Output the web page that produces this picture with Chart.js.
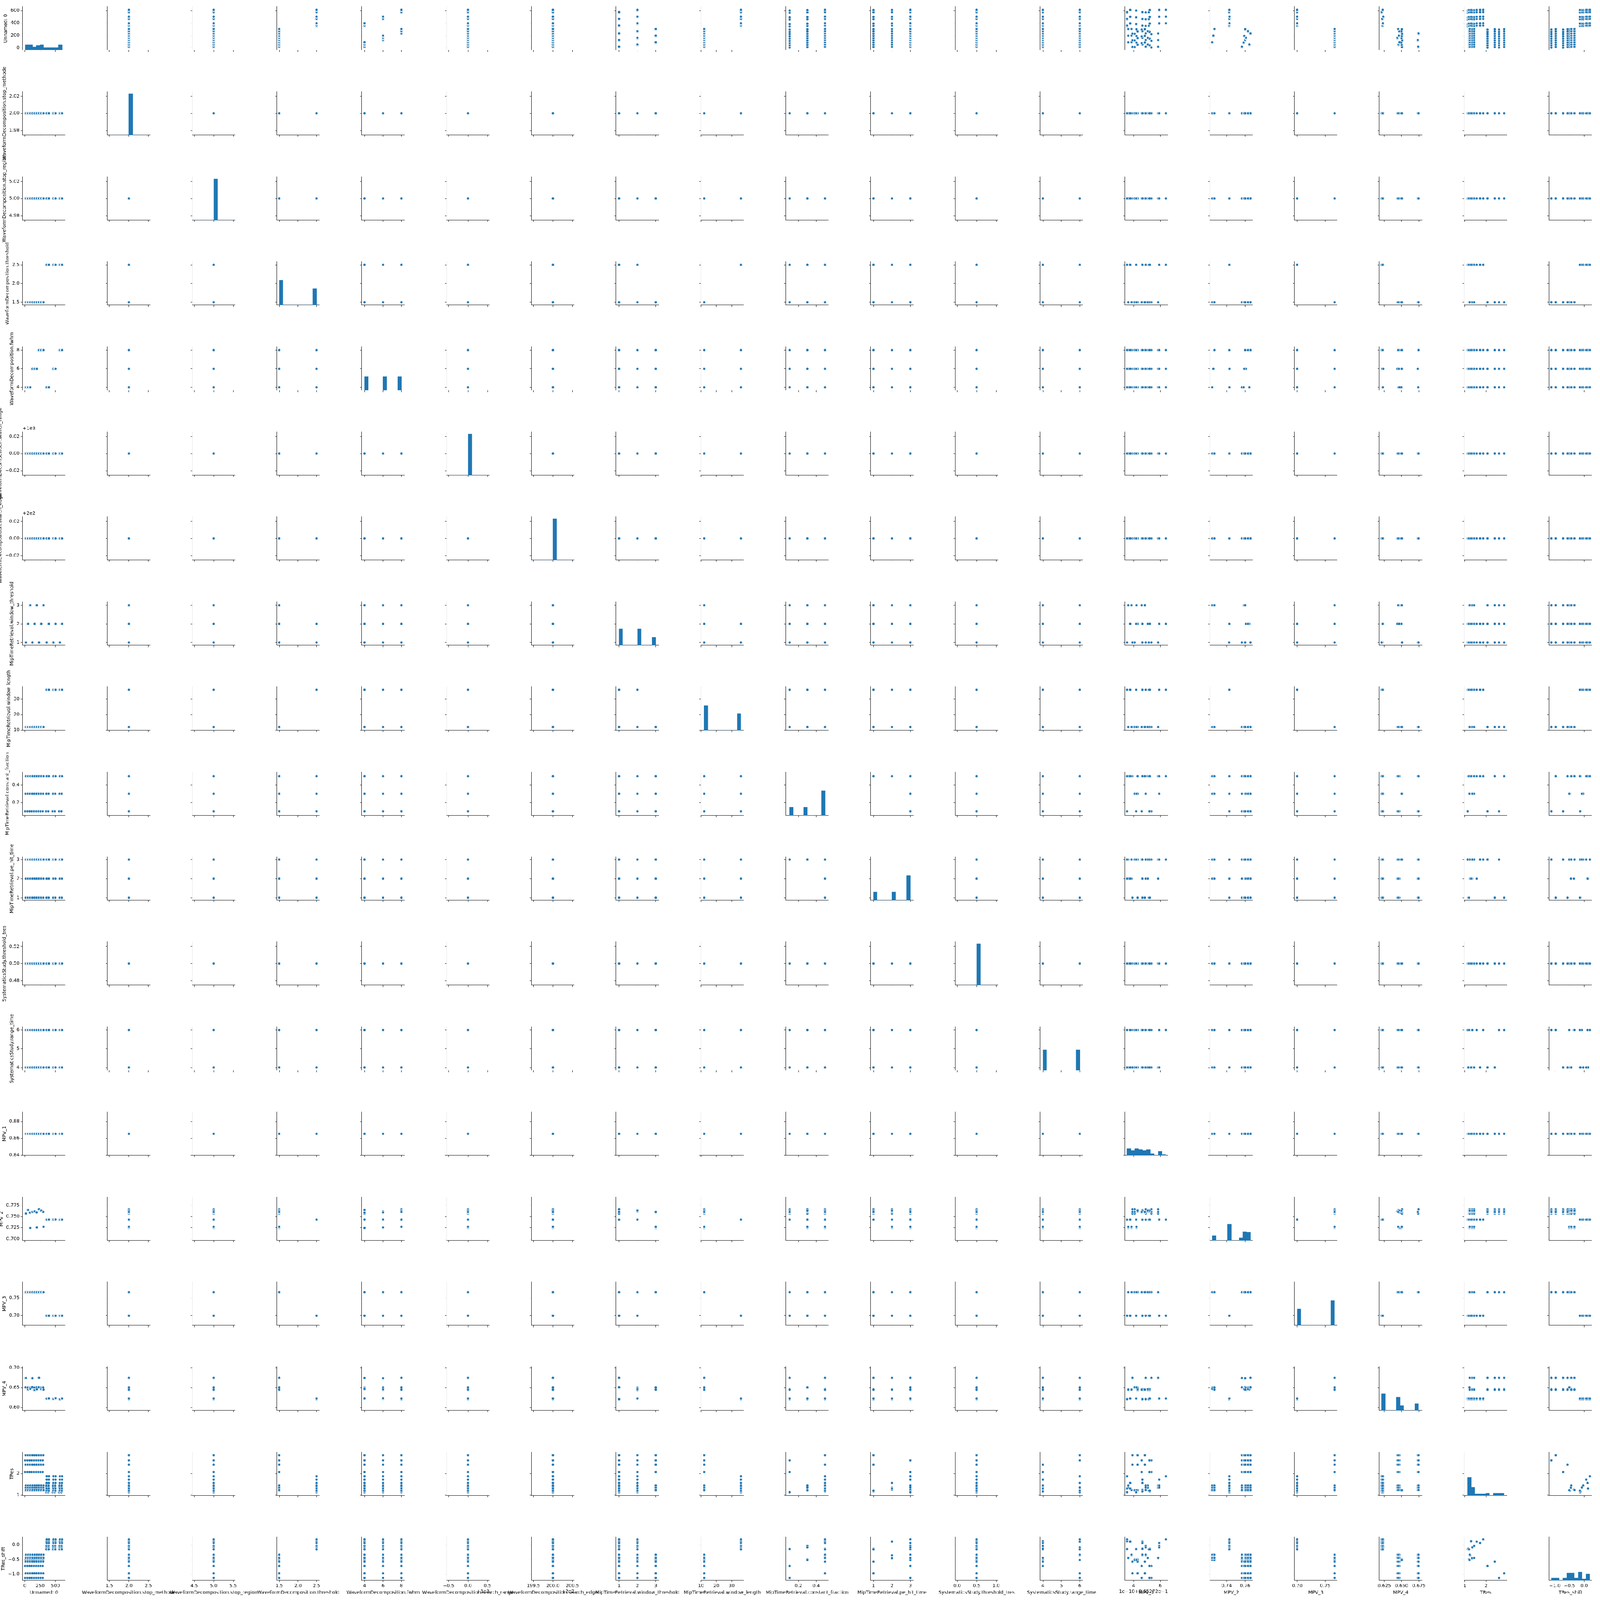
<!DOCTYPE html>
<html>
<head>
<meta charset="utf-8">
<script src="https://cdn.jsdelivr.net/npm/chart.js@4.4.1/dist/chart.umd.min.js"></script>
<style>
html, body { margin: 0; padding: 0; background: #fff; overflow: hidden; }
#grid { position: absolute; left: 0; top: 0; width: 4750px; height: 4750px; overflow: hidden; transform-origin: 0 0; }
#grid canvas { position: absolute; }
</style>
</head>
<body>
<div id="grid"></div>
<script>
// ---- columns of the pair plot ----
const VAR_NAMES = [
  "Unnamed: 0",
  "WaveformDecomposition.stop_methode",
  "WaveformDecomposition.stop_region",
  "WaveformDecomposition.threshold",
  "WaveformDecomposition.fwhm",
  "WaveformDecomposition.search_range",
  "WaveformDecomposition.search_edge",
  "MipTimeRetrieval.window_threshold",
  "MipTimeRetrieval.window_length",
  "MipTimeRetrieval.constant_fraction",
  "MipTimeRetrieval.pe_hit_time",
  "SystematicsStudy.threshold_tres",
  "SystematicsStudy.range_time",
  "MPV_1", "MPV_2", "MPV_3", "MPV_4", "TRes", "TRes_shift"
];

// constant settings
const STOP_METHODE = 2;
const STOP_REGION = 5;
const SEARCH_RANGE = 1000;
const SEARCH_EDGE = 200;
const THRESHOLD_TRES = 0.5;
const MPV1_BASE = 0.865272;   // MPV_1 = base + offset * 1e-10

// parameter groups (threshold / fwhm / window)
const grpIndexBase = [0, 36, 72, 108, 144, 180, 216, 252, 288, 342, 378, 450, 486, 558, 594];
const grpThreshold = [1.5, 1.5, 1.5, 1.5, 1.5, 1.5, 1.5, 1.5, 1.5, 2.5, 2.5, 2.5, 2.5, 2.5, 2.5];
const grpFwhm      = [4, 4, 4, 6, 6, 6, 8, 8, 8, 4, 4, 6, 6, 8, 8];
const grpWinThr    = [1, 2, 3, 1, 2, 3, 1, 2, 3, 1, 2, 1, 2, 1, 2];
const grpWinLen    = [12, 12, 12, 12, 12, 12, 12, 12, 12, 36, 36, 36, 36, 36, 36];
const grpMPV2      = [0.7565, 0.7645, 0.7585, 0.7600, 0.7610, 0.7590, 0.7658, 0.7632, 0.7600, 0.7429, 0.7431, 0.7430, 0.7432, 0.7428, 0.7430];
const grpMPV2Alt   = [0.7565, 0.7645, 0.7245, 0.7600, 0.7610, 0.7258, 0.7658, 0.7632, 0.7270, 0.7429, 0.7431, 0.7430, 0.7432, 0.7428, 0.7430];
const grpMPV3      = [0.7667, 0.7667, 0.7667, 0.7667, 0.7667, 0.7667, 0.7667, 0.7667, 0.7667, 0.7000, 0.7000, 0.7000, 0.7000, 0.7000, 0.7000];
const grpMPV4      = [0.6740, 0.6455, 0.6470, 0.6735, 0.6440, 0.6460, 0.6745, 0.6465, 0.6450, 0.6225, 0.6230, 0.6220, 0.6235, 0.6210, 0.6228];
const grpMPV4Cf03  = [0.6505, 0.6500, 0.6495, 0.6510, 0.6498, 0.6502, 0.6507, 0.6496, 0.6503, 0.6225, 0.6230, 0.6220, 0.6235, 0.6210, 0.6228];

// timing settings inside each group
const cmbOffset  = [4, 5, 10, 11, 12, 13, 14, 15, 16, 17];
const cmbCF      = [0.1, 0.1, 0.3, 0.3, 0.5, 0.5, 0.5, 0.5, 0.5, 0.5];
const cmbPE      = [3, 3, 3, 3, 1, 1, 2, 2, 3, 3];
const cmbRT      = [4, 6, 4, 6, 4, 6, 4, 6, 4, 6];
const cmbMpv2Alt = [0, 0, 1, 1, 0, 0, 1, 1, 1, 1];
const tresA  = [2.07, 2.61, 1.20, 1.22, 2.41, 2.85, 1.34, 1.25, 1.44, 1.23];
const shiftA = [-0.72, -1.12, -0.49, -0.51, -0.57, -0.97, -0.45, -0.35, -0.44, -0.33];
const tresB  = [1.15, 1.13, 1.44, 1.35, 1.17, 1.20, 1.30, 1.56, 1.72, 1.87];
const shiftB = [-0.15, -0.14, -0.03, -0.08, -0.13, -0.15, 0.13, 0.11, 0.07, 0.19];

// MPV_1 offsets (x 1e-10) per threshold / window_threshold
const mpv1OffA1 = [5.33, 5.33, 4.07, 4.07, 3.90, 3.90, 5.84, 4.91, 5.84, 4.91];
const mpv1OffA2 = [5.19, 5.19, 4.30, 4.30, 4.30, 4.30, 5.07, 4.65, 5.07, 4.65];
const mpv1OffA3 = [4.60, 4.60, 4.21, 4.21, 4.84, 4.84, 3.60, 3.84, 3.60, 3.84];
const mpv1OffB1 = [3.50, 3.50, 4.91, 4.91, 4.65, 5.14, 3.50, 4.65, 4.65, 3.50];
const mpv1OffB2 = [4.19, 4.19, 5.91, 5.91, 5.21, 5.21, 3.74, 3.74, 5.91, 6.42];

// axis limits and ticks
const X_RANGE = [[-38, 664], [1.45, 2.55], [4.45, 5.55], [1.436, 2.583], [3.70, 8.33], [999.45, 1000.55],
  [199.45, 200.55], [0.838, 3.17], [9.95, 37.9], [0.058, 0.54], [0.852, 3.17], [-0.05, 1.05], [3.85, 6.17],
  [3.354, 6.566], [0.7221, 0.7682], [0.6952, 0.7714], [0.6178, 0.6798], [0.975, 2.99], [-1.195, 0.263]];
const Y_RANGE = [[-38, 661], [1.9745, 2.0255], [4.9745, 5.0255], [1.422, 2.584], [3.67, 8.34], [999.9745, 1000.0255],
  [199.9745, 200.0255], [0.843, 3.18], [9.95, 37.9], [0.052, 0.548], [0.86, 3.14], [0.4745, 0.5255], [3.842, 6.158],
  [0.8397, 0.8913], [0.6964, 0.7929], [0.672, 0.796], [0.593, 0.702], [0.975, 2.99], [-1.21, 0.272]];
const X_TICKS = [[0, 250, 500], [1.5, 2, 2.5], [4.5, 5, 5.5], [1.5, 2, 2.5], [4, 6, 8], [999.5, 1000, 1000.5],
  [199.5, 200, 200.5], [1, 2, 3], [10, 20, 30], [0.2, 0.4], [1, 2, 3], [0, 0.5, 1], [4, 5, 6],
  [4, 6], [0.74, 0.76], [0.70, 0.75], [0.625, 0.65, 0.675], [1, 2], [-1, -0.5, 0]];
const X_TICK_TEXT = [["0", "250", "500"], ["1.5", "2.0", "2.5"], ["4.5", "5.0", "5.5"], ["1.5", "2.0", "2.5"], ["4", "6", "8"],
  ["\u22120.5", "0.0", "0.5"], ["199.5", "200.0", "200.5"], ["1", "2", "3"], ["10", "20", "30"], ["0.2", "0.4"],
  ["1", "2", "3"], ["0.0", "0.5", "1.0"], ["4", "5", "6"], ["4", "6"], ["0.74", "0.76"], ["0.70", "0.75"],
  ["0.625", "0.650", "0.675"], ["1", "2"], ["\u22121.0", "\u22120.5", "0.0"]];
const Y_TICKS = [[0, 200, 400, 600], [1.98, 2, 2.02], [4.98, 5, 5.02], [1.5, 2, 2.5], [4, 6, 8], [999.98, 1000, 1000.02],
  [199.98, 200, 200.02], [1, 2, 3], [10, 20, 30], [0.2, 0.4], [1, 2, 3], [0.48, 0.5, 0.52], [4, 5, 6],
  [0.84, 0.86, 0.88], [0.7, 0.725, 0.75, 0.775], [0.7, 0.75], [0.6, 0.65, 0.7], [1, 2], [-1, -0.5, 0]];
const Y_TICK_TEXT = [["0", "200", "400", "600"], ["1.98", "2.00", "2.02"], ["4.98", "5.00", "5.02"], ["1.5", "2.0", "2.5"],
  ["4", "6", "8"], ["\u22120.02", "0.00", "0.02"], ["\u22120.02", "0.00", "0.02"], ["1", "2", "3"], ["10", "20", "30"],
  ["0.2", "0.4"], ["1", "2", "3"], ["0.48", "0.50", "0.52"], ["4", "5", "6"], ["0.84", "0.86", "0.88"],
  ["0.700", "0.725", "0.750", "0.775"], ["0.70", "0.75"], ["0.60", "0.65", "0.70"], ["1", "2"], ["\u22121.0", "\u22120.5", "0.0"]];
const X_OFFSET_TEXT = { 5: "+1e3", 6: "+2e2", 13: "1e\u221210+8.65272e\u22121" };
const Y_OFFSET_TEXT = { 5: "+1e3", 6: "+2e2" };

// ---- layout ----
const PAGE = 4750;
const COL0 = 67, ROW0 = 20, PITCH_X = 251.75, PITCH_Y = 252.4, AX_W = 127, AX_H = 129;
const BLUE = "#1f77b4";
const FONT = { family: "DejaVu Sans", size: 13.9 };
const N_VARS = VAR_NAMES.length;

// build the table from the arrays above
const table = [];
for (let g = 0; g < grpIndexBase.length; g++) {
  const isA = grpThreshold[g] === 1.5;
  const off = isA ? [mpv1OffA1, mpv1OffA2, mpv1OffA3][grpWinThr[g] - 1]
                  : [mpv1OffB1, mpv1OffB2][grpWinThr[g] - 1];
  for (let c = 0; c < cmbOffset.length; c++) {
    table.push([
      grpIndexBase[g] + cmbOffset[c], STOP_METHODE, STOP_REGION, grpThreshold[g], grpFwhm[g],
      SEARCH_RANGE, SEARCH_EDGE, grpWinThr[g], grpWinLen[g], cmbCF[c], cmbPE[c], THRESHOLD_TRES, cmbRT[c],
      off[c],
      cmbMpv2Alt[c] ? grpMPV2Alt[g] : grpMPV2[g],
      grpMPV3[g],
      cmbCF[c] === 0.3 ? grpMPV4Cf03[g] : grpMPV4[g],
      isA ? tresA[c] : tresB[c],
      isA ? shiftA[c] : shiftB[c]
    ]);
  }
}
function yValue(v, r) { return v === 13 ? MPV1_BASE + r[13] * 1e-10 : r[v]; }

// 10-bin histogram like numpy
function histogram(vals) {
  let lo = Math.min(...vals), hi = Math.max(...vals);
  if (lo === hi) { lo -= 0.5; hi += 0.5; }
  const w = (hi - lo) / 10;
  const counts = new Array(10).fill(0);
  vals.forEach(v => {
    let k = Math.floor((v - lo) / w);
    if (k > 9) k = 9;
    if (k < 0) k = 0;
    counts[k]++;
  });
  return counts.map((n, k) => ({ x: lo + (k + 0.5) * w, y: n }));
}

const measureCtx = document.createElement("canvas").getContext("2d");
measureCtx.font = '13.9px "DejaVu Sans"';
function textWidth(s) { return measureCtx.measureText(s).width; }

const extraText = {
  id: "extraText",
  afterDraw(chart, args, opts) {
    const ctx = chart.ctx, a = chart.chartArea;
    ctx.save();
    ctx.fillStyle = "#000";
    ctx.font = '13.9px "DejaVu Sans"';
    if (opts.xTitle) {
      ctx.textAlign = "center"; ctx.textBaseline = "middle";
      ctx.fillText(opts.xTitle, (a.left + a.right) / 2, a.bottom + 36);
    }
    if (opts.xOffset) {
      ctx.textAlign = "right"; ctx.textBaseline = "top";
      ctx.fillText(opts.xOffset, a.right, a.bottom + 26);
    }
    if (opts.yOffset) {
      ctx.textAlign = "left"; ctx.textBaseline = "bottom";
      ctx.fillText(opts.yOffset, a.left, a.top - 3);
    }
    ctx.restore();
  }
};

// fit the 4750 px figure into whatever the viewport really is
const grid = document.getElementById("grid");
const viewW = document.documentElement.clientWidth || window.innerWidth || PAGE;
const scale = viewW / PAGE;
grid.style.transform = "scale(" + scale + ")";
const pixelRatio = Math.max(1, (window.devicePixelRatio || 1) * scale);

function makePanel(i, j) {
  const L = Math.round(COL0 + PITCH_X * j);
  const T = Math.round(ROW0 + PITCH_Y * i);
  const firstCol = j === 0, lastRow = i === N_VARS - 1;
  const padL = firstCol ? L : (lastRow ? 110 : 40);
  const padR = lastRow ? 110 : 12;
  const padT = firstCol ? 110 : 12;
  const padB = firstCol ? 110 : (lastRow ? 60 : 22);

  const canvas = document.createElement("canvas");
  canvas.width = padL + AX_W + padR;
  canvas.height = padT + AX_H + padB;
  canvas.style.left = (L - padL) + "px";
  canvas.style.top = (T - padT) + "px";
  grid.appendChild(canvas);

  const tickGrid = { display: true, drawOnChartArea: false, drawTicks: true, tickLength: 4.9,
                     color: "#000", lineWidth: 1.1, offset: false };
  const border = { display: true, color: "#000", width: 1.1 };

  let titlePad = 0;
  if (firstCol) {
    const maxW = Math.max(...Y_TICK_TEXT[i].map(textWidth));
    titlePad = L - (4.9 + 4 + maxW + 5.6 + 8.1) - 8.34;
  }

  const xScale = {
    type: "linear", position: "bottom", min: X_RANGE[j][0], max: X_RANGE[j][1], offset: false,
    afterBuildTicks: s => { s.ticks = X_TICKS[j].map(v => ({ value: v })); },
    afterFit: s => { s.height = padB; },
    ticks: { display: lastRow, autoSkip: false, maxRotation: 0, minRotation: 0, padding: 3,
             color: "#000", font: FONT, callback: (v, k) => X_TICK_TEXT[j][k] },
    grid: tickGrid, border: border
  };
  const yScale = {
    type: "linear", position: "left", axis: "y", min: Y_RANGE[i][0], max: Y_RANGE[i][1],
    afterBuildTicks: s => { s.ticks = Y_TICKS[i].map(v => ({ value: v })); },
    afterFit: s => { s.width = padL; },
    ticks: { display: firstCol, autoSkip: false, padding: 4, color: "#000", font: FONT,
             callback: (v, k) => Y_TICK_TEXT[i][k] },
    title: { display: firstCol, text: VAR_NAMES[i], color: "#000", font: FONT,
             padding: { top: titlePad, bottom: 0 } },
    grid: tickGrid, border: border
  };

  const options = {
    responsive: false, animation: false, devicePixelRatio: pixelRatio, events: [],
    layout: { padding: { left: 0, right: padR, top: padT, bottom: 0 }, autoPadding: false },
    plugins: {
      legend: { display: false }, tooltip: { enabled: false }, title: { display: false },
      extraText: {
        xTitle: lastRow ? VAR_NAMES[j] : null,
        xOffset: lastRow ? (X_OFFSET_TEXT[j] || null) : null,
        yOffset: firstCol ? (Y_OFFSET_TEXT[i] || null) : null
      }
    },
    scales: { x: xScale, y: yScale }
  };

  let config;
  if (i === j) {
    options.scales.yh = { type: "linear", axis: "y", position: "right", display: false,
                          min: 0, max: table.length * 1.05 };
    config = {
      type: "bar",
      data: { datasets: [{
        data: histogram(table.map(r => r[j])),
        backgroundColor: BLUE, borderWidth: 0, barPercentage: 1, categoryPercentage: 1,
        xAxisID: "x", yAxisID: "yh"
      }] },
      options: options, plugins: [extraText]
    };
  } else {
    config = {
      type: "scatter",
      data: { datasets: [{
        data: table.map(r => ({ x: r[j], y: yValue(i, r) })),
        pointRadius: 3.9, pointBorderWidth: 1.0, pointBorderColor: "#ffffff",
        pointBackgroundColor: BLUE, showLine: false, clip: false
      }] },
      options: options, plugins: [extraText]
    };
  }
  new Chart(canvas, config);
}

for (let i = 0; i < N_VARS; i++) {
  for (let j = 0; j < N_VARS; j++) makePanel(i, j);
}
</script>
</body>
</html>
